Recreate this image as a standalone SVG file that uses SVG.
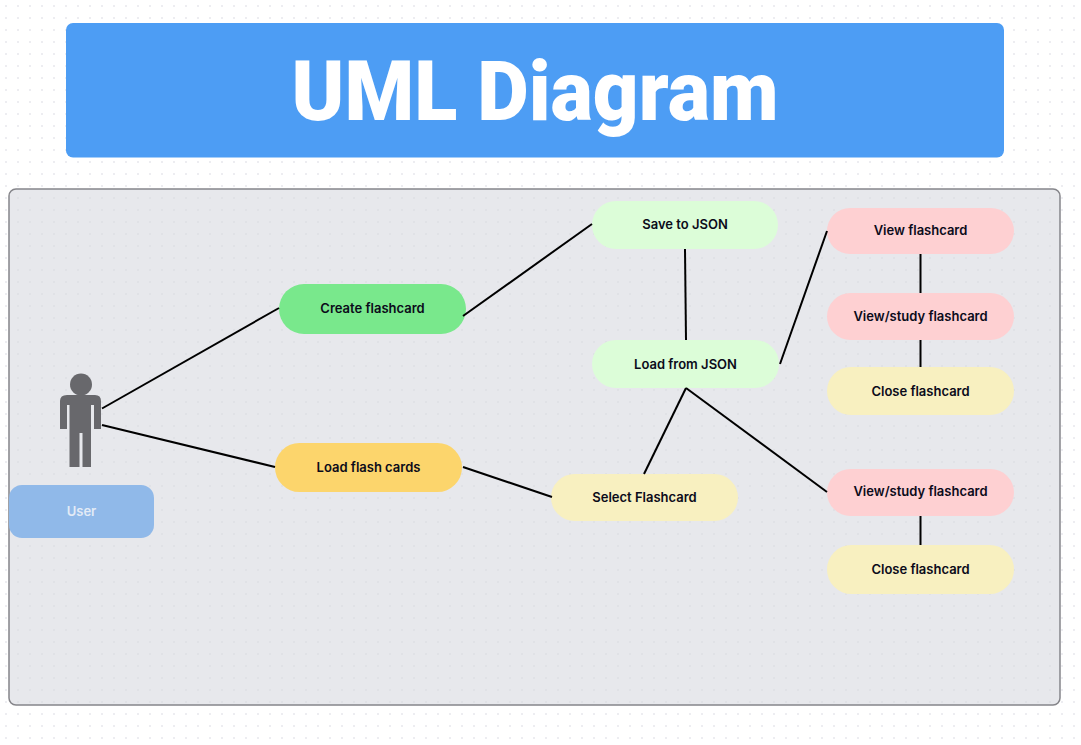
<svg xmlns="http://www.w3.org/2000/svg" width="1081" height="745" viewBox="0 0 1081 745">
<defs>
<pattern id="dots" x="0" y="0" width="12" height="12" patternUnits="userSpaceOnUse"><circle cx="6" cy="6" r="1.1" fill="#e9e9ee"/></pattern>
<pattern id="dots2" x="0" y="0" width="12" height="12" patternUnits="userSpaceOnUse"><circle cx="6" cy="6" r="1.1" fill="#dfe0e5"/></pattern>
</defs>
<style>
.n{font-family:"Inter","Liberation Sans",sans-serif;font-weight:600;font-size:13px;fill:#0b0b1a;text-anchor:middle;dominant-baseline:central}
.c line{stroke:#000;stroke-width:2;stroke-linecap:butt}
</style>
<rect width="1081" height="745" fill="#fff"/>
<rect width="1081" height="745" fill="url(#dots)"/>
<g id="title"><rect x="66" y="23" width="938" height="134.500" rx="7" fill="#4d9df4"/>
<text x="535" y="120" font-family="Roboto,'Liberation Sans',sans-serif" font-weight="900" font-size="84" fill="#fff" text-anchor="middle" textLength="487" lengthAdjust="spacingAndGlyphs">UML Diagram</text></g>
<g id="frame"><rect x="9" y="189" width="1051" height="516" rx="7" fill="#e7e8ec" stroke="#85858a" stroke-width="1.500"/>
<rect x="10" y="190" width="1049" height="514" rx="6" fill="url(#dots2)"/></g>
<g id="actor" fill="#68686c"><circle cx="81" cy="384.500" r="11"/>
<path d="M67 395H95Q101 395 101 401V429H94V405H91V467H82.500V433H79.500V467H69.500V405H67V429H60V401Q60 395 67 395Z"/></g>
<g id="user"><rect x="9" y="485" width="145" height="53" rx="13" fill="#90b9e9"/><text x="81.500" y="510.500" class="n" style="fill:#e3ebf6">User</text></g>
<g id="create"><rect x="279" y="284" width="187" height="50" rx="25" fill="#79e88c"/><text x="372.500" y="307.500" class="n">Create flashcard</text></g>
<g id="load"><rect x="275" y="443" width="187" height="49" rx="24.500" fill="#fcd56c"/><text x="368.500" y="466.500" class="n">Load flash cards</text></g>
<g id="save"><rect x="592" y="201" width="186" height="48" rx="24" fill="#dcfdd8"/><text x="685" y="223.500" class="n">Save to JSON</text></g>
<g id="loadjson"><rect x="592" y="340" width="187" height="48" rx="24" fill="#dcfdd8"/><text x="685.500" y="363.500" class="n">Load from JSON</text></g>
<g id="select"><rect x="551" y="474" width="187" height="47" rx="23.500" fill="#f8f0c0"/><text x="644.500" y="496.500" class="n">Select Flashcard</text></g>
<g id="view"><rect x="827" y="208" width="187" height="46" rx="23" fill="#fed0d2"/><text x="920.500" y="229.500" class="n">View flashcard</text></g>
<g id="study1"><rect x="827" y="293" width="187" height="47" rx="23.500" fill="#fed0d2"/><text x="920.500" y="315.500" class="n">View/study flashcard</text></g>
<g id="close1"><rect x="827" y="367" width="187" height="48" rx="24" fill="#f8f0c0"/><text x="920.500" y="390.500" class="n">Close flashcard</text></g>
<g id="study2"><rect x="827" y="469" width="187" height="47" rx="23.500" fill="#fed0d2"/><text x="920.500" y="490.500" class="n">View/study flashcard</text></g>
<g id="close2"><rect x="827" y="545" width="187" height="49" rx="24.500" fill="#f8f0c0"/><text x="920.500" y="568.500" class="n">Close flashcard</text></g>
<g id="connectors" class="c">
<line x1="102" y1="408.500" x2="279" y2="308"/>
<line x1="102" y1="425" x2="275" y2="467"/>
<line x1="463" y1="316" x2="592" y2="224"/>
<line x1="463" y1="467" x2="552" y2="497"/>
<line x1="685" y1="249" x2="686" y2="340"/>
<line x1="780" y1="364" x2="827" y2="231"/>
<line x1="686" y1="388" x2="644" y2="474"/>
<line x1="686" y1="388" x2="827" y2="492"/>
<line x1="920.500" y1="254" x2="920.500" y2="293"/>
<line x1="920.500" y1="340" x2="920.500" y2="367"/>
<line x1="920.500" y1="516" x2="920.500" y2="545"/>
</g>
</svg>
